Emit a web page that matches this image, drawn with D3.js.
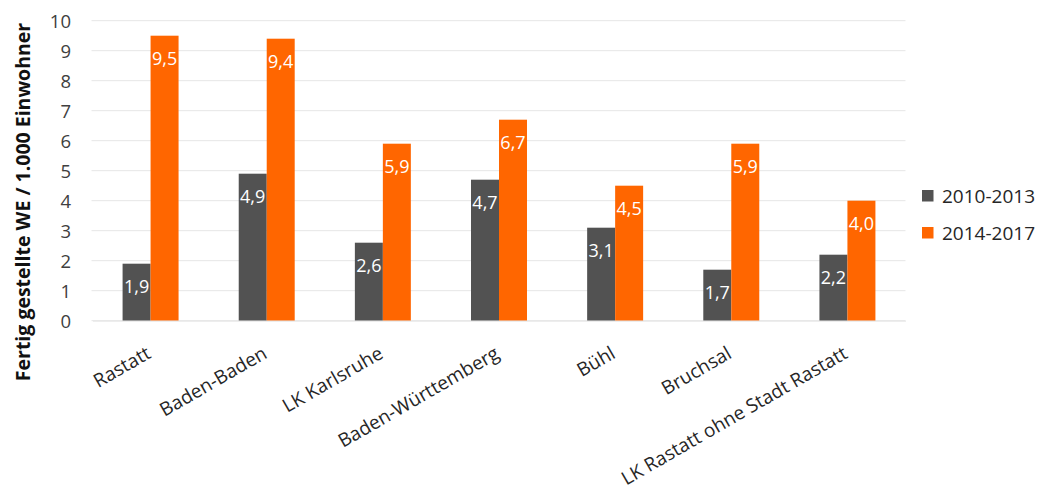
<!DOCTYPE html>
<html>
<head>
<meta charset="utf-8">
<script src="https://cdn.jsdelivr.net/npm/d3@7/dist/d3.min.js"></script>
<style>
  html, body { margin: 0; padding: 0; background: #fff; }
  svg { display: block; font-family: "Open Sans", sans-serif; }
</style>
</head>
<body>
<svg id="chart" width="1042" height="491"></svg>
<script>
// Fertiggestellte Wohneinheiten je 1.000 Einwohner, zwei Zeiträume
const categories = ["Rastatt", "Baden-Baden", "LK Karlsruhe", "Baden-Württemberg", "Bühl", "Bruchsal", "LK Rastatt ohne Stadt Rastatt"];
const seriesNames = ["2010-2013", "2014-2017"];
const values2010_2013 = [1.9, 4.9, 2.6, 4.7, 3.1, 1.7, 2.2];
const values2014_2017 = [9.5, 9.4, 5.9, 6.7, 4.5, 5.9, 4.0];
const yTicks = [0, 1, 2, 3, 4, 5, 6, 7, 8, 9, 10];
const colors = ["#525252", "#FF6600"];
const yTitle = "Fertig gestellte WE / 1.000 Einwohner";

const seriesValues = [values2010_2013, values2014_2017];
const rows = categories.map((c, i) => ({
  category: c,
  values: seriesNames.map((s, k) => ({ series: s, value: seriesValues[k][i], color: colors[k] }))
}));

const svg = d3.select("#chart");
const plot = { left: 92.5, right: 905.5, top: 20.7, bottom: 320.7 };

const x0 = d3.scaleBand().domain(categories).range([plot.left, plot.right]).padding(0);
const bw = x0.bandwidth();
const barW = bw * 0.241;
const x1 = d3.scaleBand().domain(seriesNames).range([bw / 2 - barW, bw / 2 + barW]).padding(0);
const y = d3.scaleLinear().domain([0, 10]).range([plot.bottom, plot.top]);

const fmt = v => d3.format(".1f")(v).replace(".", ",");

// Horizontal grid lines
svg.append("g")
  .selectAll("line")
  .data(yTicks)
  .join("line")
  .attr("x1", plot.left - 1)
  .attr("x2", plot.right)
  .attr("y1", d => y(d))
  .attr("y2", d => y(d))
  .attr("stroke", "#e6e6e6")
  .attr("stroke-width", 1);

// Y axis tick labels
const yAxis = d3.axisLeft(y).tickValues(yTicks).tickSize(0).tickPadding(0).tickFormat(d3.format("d"));
const yg = svg.append("g").attr("transform", `translate(71,0)`).call(yAxis);
yg.select(".domain").remove();
yg.selectAll("text")
  .attr("font-family", "Open Sans, sans-serif")
  .attr("font-size", 18.5)
  .attr("fill", "#404040")
  .attr("dy", "0.36em");

// Y axis title
svg.append("text")
  .attr("transform", `translate(30,202) rotate(-90)`)
  .attr("text-anchor", "middle")
  .attr("font-size", 19.5)
  .attr("font-weight", "bold")
  .attr("fill", "#111")
  .text(yTitle);

// Bars
const groups = svg.append("g")
  .selectAll("g")
  .data(rows)
  .join("g")
  .attr("transform", d => `translate(${x0(d.category)},0)`);

groups.selectAll("rect")
  .data(d => d.values)
  .join("rect")
  .attr("x", d => x1(d.series))
  .attr("width", x1.bandwidth())
  .attr("y", d => y(d.value))
  .attr("height", d => y(0) - y(d.value))
  .attr("fill", d => d.color);

// Value labels inside the bar tops
groups.selectAll("text")
  .data(d => d.values)
  .join("text")
  .attr("x", d => x1(d.series) + x1.bandwidth() / 2)
  .attr("y", d => y(d.value) + 29)
  .attr("text-anchor", "middle")
  .attr("font-size", 18)
  .attr("fill", "#ffffff")
  .text(d => fmt(d.value));

// Category labels, rotated
const xAxis = d3.axisBottom(x0).tickSize(0).tickPadding(0);
const xg = svg.append("g").attr("transform", `translate(0,${plot.bottom})`).call(xAxis);
xg.select(".domain").attr("stroke", "#e6e6e6");
xg.selectAll("text")
  .attr("font-family", "Open Sans, sans-serif")
  .attr("font-size", 19)
  .attr("fill", "#262626")
  .attr("text-anchor", "end")
  .attr("dy", null)
  .attr("y", null)
  .attr("transform", "translate(-1,32) rotate(-30)")
  .attr("dominant-baseline", "middle");

// Legend
const legend = svg.append("g")
  .selectAll("g")
  .data(seriesNames)
  .join("g")
  .attr("transform", (d, i) => `translate(922,${190 + i * 37})`);
legend.append("rect")
  .attr("width", 11.5)
  .attr("height", 11.5)
  .attr("fill", (d, i) => colors[i]);
legend.append("text")
  .attr("x", 20)
  .attr("y", 6)
  .attr("dy", "0.36em")
  .attr("font-size", 19)
  .attr("fill", "#262626")
  .text(d => d);
</script>
</body>
</html>
